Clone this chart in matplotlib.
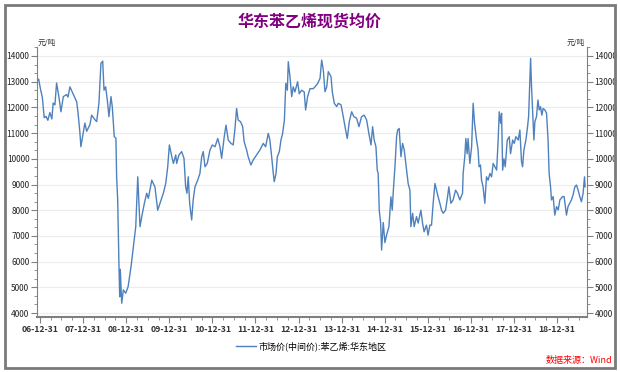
import matplotlib
matplotlib.use("Agg")
import matplotlib.pyplot as plt
import matplotlib.dates as mdates
from matplotlib.patches import Rectangle
from matplotlib.ticker import MultipleLocator, AutoMinorLocator
import pandas as pd

plt.rcParams['font.family'] = ['Noto Sans CJK SC', 'DejaVu Sans']

TITLE = "华东苯乙烯现货均价"
SERIES = "市场价(中间价):苯乙烯:华东地区"
UNIT = "元/吨"
SOURCE = "数据来源：Wind"

# 读图估算的日期与价格（元/吨）
dates = [
    # 2006-2007
    "2006-12-04", "2006-12-20", "2007-01-05", "2007-01-20", "2007-02-05", "2007-02-20",
    "2007-03-08", "2007-03-25", "2007-04-11", "2007-04-22", "2007-05-07", "2007-05-21",
    "2007-06-10", "2007-06-27", "2007-07-17", "2007-08-14", "2007-08-26", "2007-09-11",
    "2007-10-10", "2007-11-07", "2007-11-18", "2007-12-05", "2007-12-13",
    # 2008
    "2008-01-02", "2008-01-16", "2008-01-31", "2008-02-28", "2008-03-13", "2008-04-10",
    "2008-04-25", "2008-05-14", "2008-05-31", "2008-06-15", "2008-06-26", "2008-07-10",
    "2008-07-24", "2008-08-07", "2008-08-24", "2008-09-04", "2008-09-21", "2008-10-05",
    "2008-10-11", "2008-10-20", "2008-10-31", "2008-11-06", "2008-11-11", "2008-11-23",
    "2008-12-07", "2008-12-27",
    # 2009
    "2009-01-16", "2009-02-10", "2009-03-02", "2009-03-22", "2009-04-08", "2009-04-19",
    "2009-04-27", "2009-05-12", "2009-06-03", "2009-06-23", "2009-07-07", "2009-08-05",
    "2009-09-01", "2009-09-24", "2009-10-14", "2009-11-11", "2009-12-01", "2009-12-18",
    # 2010
    "2010-01-01", "2010-01-21", "2010-02-04", "2010-02-24", "2010-03-04", "2010-03-23",
    "2010-04-15", "2010-05-05", "2010-05-19", "2010-05-30", "2010-06-10", "2010-06-22",
    "2010-07-09", "2010-07-22", "2010-08-06", "2010-08-29", "2010-09-17", "2010-10-02",
    "2010-10-15", "2010-10-30", "2010-11-18", "2010-12-11", "2010-12-31",
    # 2011
    "2011-01-23", "2011-02-15", "2011-03-06", "2011-03-20", "2011-04-11", "2011-04-26",
    "2011-05-15", "2011-06-07", "2011-06-26", "2011-07-10", "2011-07-25", "2011-08-07",
    "2011-08-28", "2011-09-14", "2011-09-27", "2011-10-18", "2011-10-31", "2011-11-23",
    "2011-12-12",
    # 2012
    "2012-01-10", "2012-02-07", "2012-03-07", "2012-03-27", "2012-04-18", "2012-05-02",
    "2012-05-17", "2012-05-31", "2012-06-08", "2012-06-23", "2012-07-04", "2012-07-21",
    "2012-08-04", "2012-08-18", "2012-09-02", "2012-09-14", "2012-09-27", "2012-10-05",
    "2012-10-19", "2012-11-03", "2012-11-16", "2012-11-30", "2012-12-23",
    # 2013
    "2013-01-06", "2013-01-26", "2013-02-17", "2013-03-01", "2013-03-18", "2013-04-07",
    "2013-05-05", "2013-05-19", "2013-06-11", "2013-07-01", "2013-07-15", "2013-07-29",
    "2013-08-12", "2013-08-27", "2013-09-09", "2013-10-02", "2013-10-13", "2013-10-30",
    "2013-11-19", "2013-12-03", "2013-12-26",
    # 2014
    "2014-01-14", "2014-02-03", "2014-02-17", "2014-03-06", "2014-03-26", "2014-04-14",
    "2014-05-07", "2014-05-27", "2014-06-18", "2014-07-10", "2014-07-31", "2014-08-19",
    "2014-09-06", "2014-09-20", "2014-10-03", "2014-10-18", "2014-10-29", "2014-11-06",
    "2014-11-15", "2014-11-27", "2014-12-05", "2014-12-19",
    # 2015
    "2015-01-02", "2015-01-16", "2015-02-05", "2015-02-22", "2015-03-05", "2015-03-13",
    "2015-03-28", "2015-04-11", "2015-04-20", "2015-05-03", "2015-05-18", "2015-06-01",
    "2015-06-15", "2015-07-05", "2015-07-18", "2015-08-02", "2015-08-10", "2015-08-25",
    "2015-09-07", "2015-09-27", "2015-10-11", "2015-11-03", "2015-11-17", "2015-11-30",
    "2015-12-20",
    # 2016
    "2016-01-03", "2016-01-18", "2016-02-01", "2016-02-15", "2016-03-01", "2016-03-15",
    "2016-03-28", "2016-04-12", "2016-04-26", "2016-05-10", "2016-05-30", "2016-06-16",
    "2016-06-27", "2016-07-14", "2016-08-02", "2016-08-23", "2016-09-09", "2016-09-28",
    "2016-10-21", "2016-10-26", "2016-11-09", "2016-11-18", "2016-11-29", "2016-12-07",
    "2016-12-22",
    # 2017
    "2017-01-06", "2017-01-19", "2017-01-31", "2017-02-17", "2017-03-02", "2017-03-10",
    "2017-03-22", "2017-03-31", "2017-04-13", "2017-04-28", "2017-05-12", "2017-05-26",
    "2017-06-10", "2017-06-24", "2017-07-08", "2017-07-22", "2017-08-06", "2017-08-19",
    "2017-08-28", "2017-09-09", "2017-09-17", "2017-09-26", "2017-10-07", "2017-10-18",
    "2017-11-04", "2017-11-21", "2017-12-02", "2017-12-20",
    # 2018
    "2018-01-02", "2018-01-16", "2018-02-05", "2018-02-19", "2018-03-05", "2018-03-14",
    "2018-03-25", "2018-04-11", "2018-04-22", "2018-05-04", "2018-05-15", "2018-05-21",
    "2018-05-29", "2018-06-07", "2018-06-18", "2018-06-26", "2018-07-10", "2018-07-22",
    "2018-08-02", "2018-08-13", "2018-08-24", "2018-09-04", "2018-09-19", "2018-10-03",
    "2018-10-16", "2018-10-25", "2018-11-06", "2018-11-14", "2018-11-28", "2018-12-12",
    "2018-12-27",
    # 2019
    "2019-01-10", "2019-01-24", "2019-02-16", "2019-03-01", "2019-03-12", "2019-03-21",
    "2019-04-03", "2019-04-18", "2019-05-02", "2019-05-16", "2019-05-31", "2019-06-14",
    "2019-06-28", "2019-07-12", "2019-07-26", "2019-08-09", "2019-08-21", "2019-08-26",
]

prices = [
    # 2006-2007
    13000, 13100, 12700, 12400, 11600, 11650, 11500, 11800, 11550, 12170, 12100, 12950,
    12400, 11830, 12420, 12500, 12400, 12800, 12500, 12220, 11830, 11000, 10470,
    # 2008
    11000, 11390, 11070, 11330, 11700, 11520, 11450, 12170, 13720, 13800, 12670, 12800,
    12285, 11640, 12420, 12030, 10860, 10800, 9300, 8400, 5800, 4630, 5700, 4380,
    4900, 4770,
    # 2009
    5020, 5800, 6580, 7360, 9300, 8140, 7360, 7750, 8270, 8660, 8460, 9170,
    8900, 8000, 8270, 8660, 9040, 9690,
    # 2010
    10540, 10100, 9820, 10150, 9820, 10150, 10280, 10020, 8910, 8660, 9300, 8270,
    7620, 8400, 8910, 9170, 9430, 10080, 10280, 9690, 9820, 10340, 10540,
    # 2011
    10470, 10790, 10470, 10020, 10860, 11310, 10730, 10600, 10540, 11120, 11960, 11510,
    11440, 11250, 10660, 10340, 10080, 9760, 9950,
    # 2012
    10150, 10340, 10600, 10470, 10990, 10730, 10080, 9430, 9110, 9430, 10080, 10280,
    10730, 10990, 11510, 12940, 12670, 13780, 13200, 12420, 12800, 12600, 13000,
    # 2013
    12530, 12670, 12600, 11900, 12420, 12730, 12730, 12800, 12930, 13130, 13840, 13450,
    12610, 12800, 13390, 13200, 12610, 12160, 12030, 12160, 12100,
    # 2014
    11640, 11120, 10790, 11440, 11830, 11640, 11580, 11250, 11640, 11700, 11510, 10990,
    10540, 11250, 10730, 10470, 9560, 9430, 8000, 7500, 6450, 7520,
    # 2015
    6740, 7030, 7360, 8520, 8000, 8660, 9690, 10860, 11120, 11180, 10080, 10600,
    10340, 9560, 9040, 8780, 7360, 7880, 7360, 7750, 7500, 8000, 7500, 7160,
    7420,
    # 2016
    7030, 7420, 7420, 8270, 9040, 8780, 8520, 8270, 8000, 7880, 8000, 8520,
    8910, 8270, 8400, 8780, 8650, 8400, 8660, 9430, 10080, 10790, 10200, 10790,
    9820,
    # 2017
    10470, 12160, 11380, 10730, 10340, 9690, 9760, 9170, 8910, 8270, 9300, 9170,
    9430, 9300, 9820, 9690, 9560, 10730, 11830, 11380, 11770, 9560, 10000, 9690,
    10730, 10860, 10200, 10730,
    # 2018
    10600, 10860, 10730, 11120, 9880, 9690, 10340, 10730, 11120, 11640, 13060, 13910,
    12800, 11830, 10730, 11440, 11640, 12290, 11900, 12030, 11700, 11960, 11900, 11770,
    10730, 9430, 8910, 8400, 8530, 7810, 8140,
    # 2019
    8010, 8400, 8530, 8530, 8140, 7810, 8140, 8270, 8400, 8600, 8910, 8980,
    8780, 8530, 8330, 8660, 9300, 8910,
]

assert len(dates) == len(prices)
x = pd.to_datetime(dates)

fig = plt.figure(figsize=(6.2, 3.72), dpi=100)
fig.patch.set_facecolor("white")
fig.patches.append(Rectangle((5 / 620, 4 / 372), 610 / 620, 363 / 372,
                             transform=fig.transFigure, fill=False,
                             edgecolor="#7a7a7a", linewidth=2))

ax = fig.add_axes([37 / 620, 55 / 372, 550 / 620, 270 / 372])
line, = ax.plot(x, prices, color="#4f81bd", linewidth=1.0, label=SERIES)

ax.set_xlim(pd.Timestamp("2006-12-06"), pd.Timestamp("2019-09-11"))
ax.set_ylim(3845, 14350)

ax.yaxis.set_major_locator(MultipleLocator(1000))
ax.yaxis.set_minor_locator(AutoMinorLocator(3))
ax.grid(axis="y", color="#ececec", linewidth=0.8)
ax.set_axisbelow(True)

# 年末为主刻度，季度为次刻度
years = pd.date_range("2006-12-31", "2018-12-31", freq="YE")
ax.set_xticks(years)
ax.set_xticklabels([d.strftime("%y-%m-%d") for d in years])
ax.xaxis.set_minor_locator(mdates.MonthLocator(bymonth=[4, 7, 10]))

for s in ["left", "right", "bottom"]:
    ax.spines[s].set_color("#808080")
ax.spines["top"].set_visible(False)
ax.spines["bottom"].set_linewidth(1.5)

ax.tick_params(axis="both", which="major", labelsize=6, color="#808080",
               length=4, width=0.8, pad=1.5, labelcolor="#222222")
ax.tick_params(axis="both", which="minor", color="#808080", length=2.5, width=0.6)
ax.tick_params(axis="y", which="both", left=True, right=True, labelright=True)
ax.tick_params(axis="x", labelsize=6.2)
for lab in ax.get_xticklabels():
    lab.set_fontweight("bold")
    lab.set_color("#333333")

fig.text(38 / 620, 1 - 47 / 372, UNIT, fontsize=5.5, color="#333333", va="bottom")
fig.text(585 / 620, 1 - 47 / 372, UNIT, fontsize=5.5, color="#333333", va="bottom", ha="right")

fig.text(0.5, 1 - 22 / 372, TITLE, ha="center", va="center", fontsize=11.5,
         fontweight="bold", color="#800080")

fig.legend(handles=[line], loc="center", bbox_to_anchor=(311 / 620, 1 - 346 / 372),
           frameon=False, fontsize=6.5, handlelength=2.2, handletextpad=0.3)

fig.text(612 / 620, 1 - 361 / 372, SOURCE, ha="right", va="center", fontsize=6.5,
         color="#ff0000", style="italic")

fig.savefig("out.png", dpi=100)
